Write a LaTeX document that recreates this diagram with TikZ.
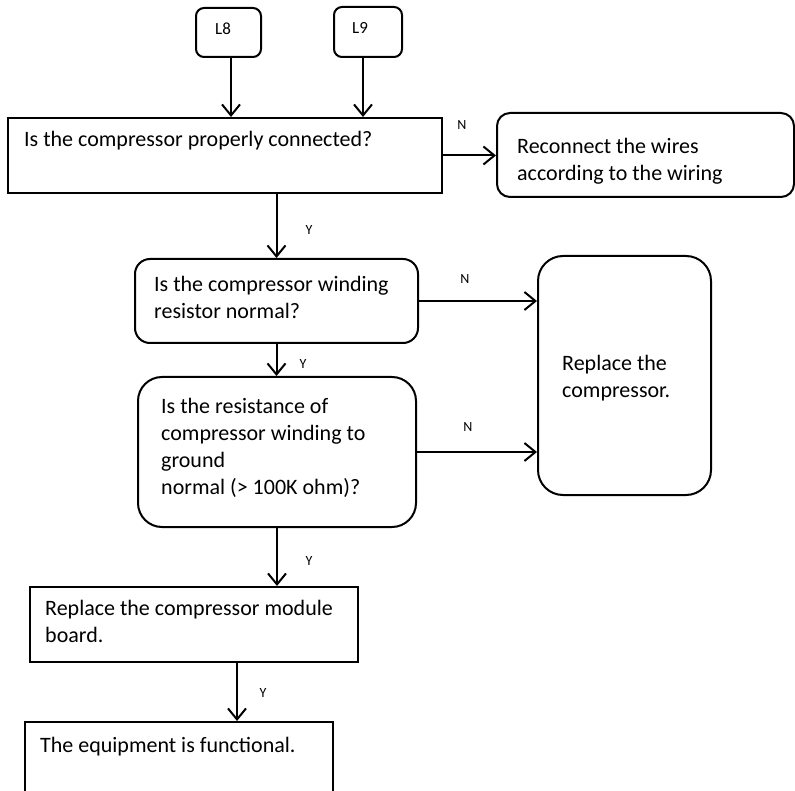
\documentclass[tikz,border=0pt]{standalone}
\usepackage{fontspec}
\setmainfont{Carlito}
\usetikzlibrary{arrows.meta}
\begin{document}
\begin{tikzpicture}[x=1pt,y=-1pt,
  box/.style={draw, line width=2pt, inner sep=0pt},
  rbox/.style={box, rounded corners=#1},
  txt/.style={anchor=base west, inner sep=0pt, align=left, font=\fontsize{22}{27}\selectfont},
  small/.style={inner sep=0pt, font=\fontsize{14}{16}\selectfont},
  lbl/.style={anchor=base west, inner sep=0pt, font=\fontsize{17}{20}\selectfont},
  arr/.style={line width=2pt, -{Straight Barb[length=11pt,width=18pt]}}]
\useasboundingbox (0,0) rectangle (795,791);
\fill[white] (0,0) rectangle (795,791);
\clip (0,0) rectangle (795,791);
% boxes
\node[rbox=8pt, minimum width=65pt, minimum height=49pt] (l8) at (228.5,32.5) {};
\node[rbox=8pt, minimum width=68pt, minimum height=50pt] (l9) at (368,32) {};
\node[box, minimum width=434pt, minimum height=75pt] (b1) at (225,155.5) {};
\node[rbox=13pt, minimum width=297pt, minimum height=84pt] (rc) at (645.5,155) {};
\node[rbox=15pt, minimum width=283pt, minimum height=84pt] (b2) at (276.5,301) {};
\node[rbox=25pt, minimum width=173pt, minimum height=239pt] (rep) at (624.5,375.5) {};
\node[rbox=24pt, minimum width=278pt, minimum height=150pt] (b3) at (277,452) {};
\node[box, minimum width=328pt, minimum height=75pt] (b4) at (194,624.5) {};
\node[box, minimum width=308pt, minimum height=78pt] (b5) at (179,761) {};
% texts (base = baseline of the last line)
\node[lbl] (tl8) at (215,35) {L8};
\node[lbl] (tl9) at (352,34) {L9};
\node[txt] (t1) at (24,147) {Is the compressor properly connected?};
\node[txt] (trc) at (517,181) {Reconnect the wires\\according to the wiring};
\node[txt] (t2) at (154,319) {Is the compressor winding\\resistor normal?};
\node[txt] (trep) at (562,397) {Replace the\\compressor.};
\node[txt] (t3) at (161,494) {Is the resistance of\\compressor winding to\\ground\\normal (> 100K ohm)?};
\node[txt] (t4) at (45,642) {Replace the compressor module\\board.};
\node[txt] (t5) at (40,752) {The equipment is functional.};
% labels
\node[small] (n1) at (462,125) {N};
\node[small] (y1) at (309,230) {Y};
\node[small] (n2) at (465,279) {N};
\node[small] (y2) at (303,364) {Y};
\node[small] (n3) at (468,427) {N};
\node[small] (y3) at (309,561) {Y};
\node[small] (y4) at (263,693) {Y};
% connectors
\draw[arr] ([xshift=2.5pt]l8.south) -- ([xshift=2.5pt]l8.south |- b1.north);
\draw[arr] ([xshift=-5pt]l9.south) -- ([xshift=-5pt]l9.south |- b1.north);
\draw[arr] (b1.east) -- (b1.east -| rc.west);
\draw[arr] (b2.north |- b1.south) -- (b2.north);
\draw[arr] (b2.east) -- (b2.east -| rep.west);
\draw[arr] (b2.south) -- (b2.south |- b3.north);
\draw[arr] (b3.east) -- (b3.east -| rep.west);
\draw[arr] (b3.south) -- (b3.south |- b4.north);
\draw[arr] ([xshift=43pt]b4.south) -- ([xshift=43pt]b4.south |- b5.north);
\end{tikzpicture}
\end{document}
